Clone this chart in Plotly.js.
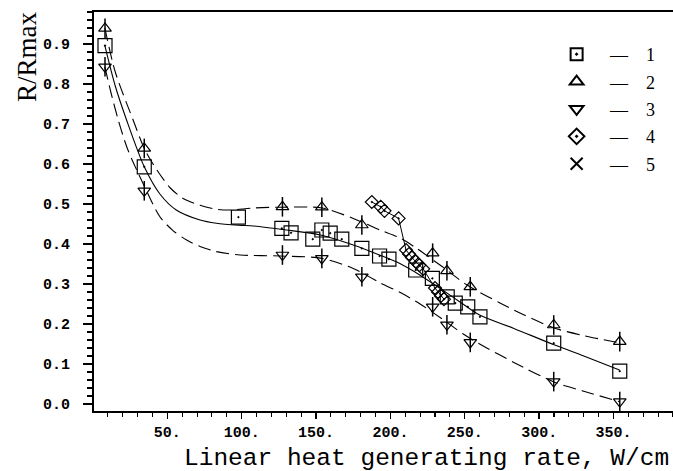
<!DOCTYPE html>
<html><head><meta charset="utf-8">
<script src="https://cdn.plot.ly/plotly-3.0.1.min.js"></script>
<style>html,body{margin:0;padding:0;background:#fff}</style>
</head><body><div id="chart" style="width:673px;height:471px"></div>
<script>
// Series 1 (squares)
const x1 = [8.1, 34.5, 97.8, 127, 133.2, 147.8, 153.9, 159.5, 167.3, 180.8, 192.7, 199, 217, 228.2, 238.2, 243.6, 252, 260.2, 309.8, 354.2];
const y1 = [0.896, 0.593, 0.467, 0.439, 0.428, 0.412, 0.435, 0.427, 0.412, 0.389, 0.37, 0.362, 0.335, 0.314, 0.268, 0.252, 0.243, 0.218, 0.152, 0.082];
// Series 2 (up arrows) and 3 (down arrows) share x
const x23 = [8.1, 34.5, 127.4, 153.9, 180.8, 228.4, 238, 253.7, 309.8, 354.2];
const y2 = [0.939, 0.639, 0.493, 0.492, 0.4475, 0.377, 0.333, 0.293, 0.1975, 0.156];
const y3 = [0.843, 0.533, 0.3725, 0.364, 0.318, 0.243, 0.198, 0.154, 0.056, 0.006];
// Series 4 (diamonds)
const x4 = [187.5, 193.5, 196, 205.5, 210.5, 212.5, 214.5, 217, 219.5, 222, 230, 232, 234, 236];
const y4 = [0.505, 0.493, 0.483, 0.464, 0.385, 0.375, 0.366, 0.356, 0.347, 0.338, 0.29, 0.28, 0.27, 0.262];
// Series 5 (crosses) - no visible points
const x5 = [null];
const y5 = [null];
// Fitted curves
const fitX = [8, 15, 22.6, 34.5, 45, 56, 72, 83, 98, 108, 130, 153, 175, 193, 207, 220, 235, 248, 260, 283, 310, 330, 354];
const fitY = [0.896, 0.795, 0.71, 0.593, 0.525, 0.485, 0.46, 0.452, 0.447, 0.445, 0.435, 0.4225, 0.3975, 0.372, 0.35, 0.322, 0.285, 0.252, 0.2225, 0.189, 0.148, 0.12, 0.085];
const upX = [8, 15, 27, 35, 43, 52, 61, 72, 83, 92, 108, 127, 154, 175, 193, 207, 218, 235, 251.5, 274, 290, 310, 330, 354];
const upY = [0.94, 0.83, 0.71, 0.635, 0.585, 0.54, 0.513, 0.497, 0.487, 0.485, 0.49, 0.492, 0.49, 0.464, 0.435, 0.414, 0.388, 0.343, 0.2975, 0.252, 0.2225, 0.19, 0.171, 0.153];
const loX = [8, 12, 17, 23, 29.4, 34.5, 45, 54, 63, 72, 83, 99, 126, 154, 175, 193, 207, 220, 235, 249, 260, 283, 310, 330, 354];
const loY = [0.843, 0.78, 0.71, 0.64, 0.585, 0.545, 0.468, 0.433, 0.41, 0.394, 0.381, 0.3725, 0.37, 0.364, 0.339, 0.303, 0.278, 0.25, 0.212, 0.175, 0.15, 0.104, 0.055, 0.032, 0.006];
const nb = '\u00A0';
const names = ['1', '2', '3', '4', '5'].map(n => nb + nb + nb + '\u2014' + nb + nb + nb + nb + n);

const K = '#000';
const dashPat = '13px,6px';
const mk = (sym, size, w) => ({symbol: sym, size: size, color: K, line: {color: K, width: w || 1.2}});
const XR = [0.7, 390];
const YR = [-0.0175, 0.98];

const traces = [
  {x: fitX, y: fitY, mode: 'lines', line: {color: K, width: 1.1, shape: 'spline', smoothing: 0.8}, showlegend: false, hoverinfo: 'skip'},
  {x: upX, y: upY, mode: 'lines', line: {color: K, width: 1.1, dash: dashPat, shape: 'spline', smoothing: 0.8}, showlegend: false, hoverinfo: 'skip'},
  {x: loX, y: loY, mode: 'lines', line: {color: K, width: 1.1, dash: dashPat, shape: 'spline', smoothing: 0.8}, showlegend: false, hoverinfo: 'skip'},
  {x: x4, y: y4, mode: 'lines', line: {color: K, width: 1}, showlegend: false, hoverinfo: 'skip'},
  {x: x23, y: y2, mode: 'markers', showlegend: false, marker: mk('line-ns-open', 14, 1.5)},
  {x: x23, y: y3, mode: 'markers', showlegend: false, marker: mk('line-ns-open', 14, 1.5)},
  {x: x1, y: y1, mode: 'markers', name: names[0], legendgroup: 'g1', marker: mk('square-open-dot', 14)},
  {x: x23, y: y2, mode: 'markers', name: names[1], legendgroup: 'g2', marker: mk('triangle-up-open', 11)},
  {x: x23, y: y3, mode: 'markers', name: names[2], legendgroup: 'g3', marker: mk('triangle-down-open', 11)},
  {x: x4, y: y4, mode: 'markers', name: names[3], legendgroup: 'g4', marker: mk('diamond-open-dot', 10)},
  {x: x5, y: y5, mode: 'markers', name: names[4], legendgroup: 'g5', marker: mk('x-thin-open', 12)}
];

const tickFont = {family: 'Liberation Mono', size: 15, color: K, weight: 'bold'};
const layout = {
  width: 673, height: 471,
  margin: {l: 94, r: 0, t: 12, b: 60, pad: 0},
  showlegend: true,
  legend: {x: 0.799, y: 0.94, xanchor: 'left', yanchor: 'top', font: {family: 'Liberation Serif', size: 18, color: K},
           bgcolor: 'rgba(0,0,0,0)', itemsizing: 'constant', tracegroupgap: 1},
  xaxis: {range: XR, showline: true, mirror: true, linecolor: K, linewidth: 1.6,
          showgrid: false, zeroline: false, tickmode: 'linear', tick0: 0, dtick: 50, ticksuffix: '.',
          ticks: 'outside', ticklen: 6, tickwidth: 1.3, tickcolor: K, tickfont: tickFont,
          minor: {ticks: 'outside', dtick: 10, tick0: 0, ticklen: 4, tickwidth: 1.1, tickcolor: K, showgrid: false}},
  yaxis: {range: YR, showline: true, linecolor: K, linewidth: 2,
          showgrid: false, zeroline: false, tickmode: 'linear', tick0: 0, dtick: 0.1, tickformat: '.1f',
          ticks: 'outside', ticklen: 9, tickwidth: 1.3, tickcolor: K, tickfont: tickFont, ticklabelstandoff: 10,
          minor: {ticks: 'outside', dtick: 0.02, tick0: 0, ticklen: 5, tickwidth: 1.1, tickcolor: K, showgrid: false}},
  annotations: [
    {text: 'R/Rmax', xref: 'paper', yref: 'paper', x: -0.1157, y: 0.887, xanchor: 'center', yanchor: 'middle',
     textangle: -90, showarrow: false, font: {family: 'Liberation Serif', size: 27, color: K}},
    {text: 'Linear heat generating rate, W/cm', xref: 'paper', yref: 'paper', x: 0.997, y: -0.118, xanchor: 'right', yanchor: 'middle',
     showarrow: false, font: {family: 'Liberation Mono', size: 24.5, color: K}}
  ]
};
Plotly.newPlot('chart', traces, layout, {displayModeBar: false, staticPlot: true});
</script></body></html>
